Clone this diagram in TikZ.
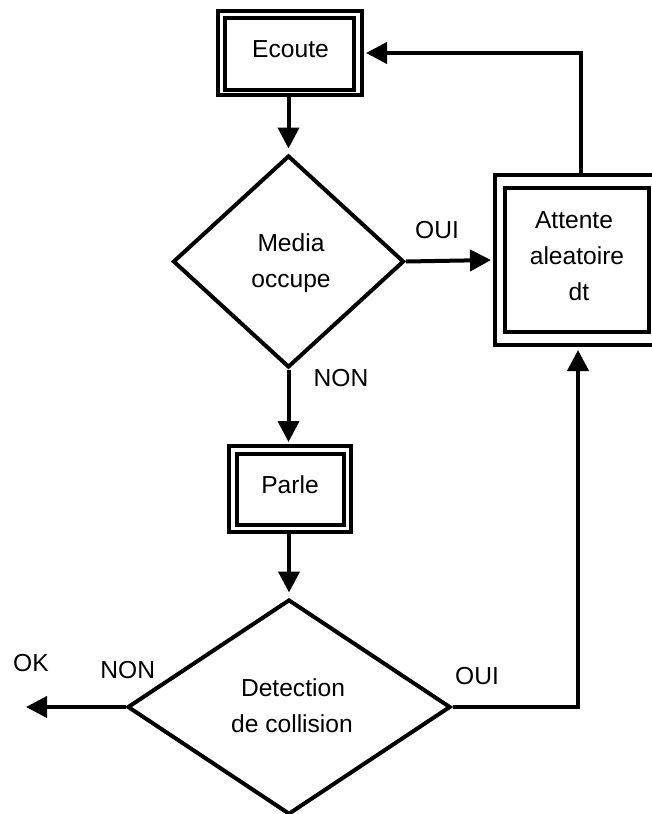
\documentclass[tikz,border=0pt]{standalone}
\usepackage{fontspec}
\setmainfont{Liberation Sans}
\usetikzlibrary{arrows.meta,shapes.geometric}

\tikzset{
  txt/.style={font=\fontsize{24.6}{36}\selectfont, inner sep=0pt, anchor=base},
  boxline/.style={draw, line width=4pt, rectangle, inner sep=0pt},
  decision/.style={draw, line width=4pt, diamond, inner sep=0pt},
  flow/.style={line width=4pt, -{Triangle[length=21pt,width=21pt]}, shorten >=2pt},
}

\begin{document}
\begin{tikzpicture}[x=1pt, y=-1pt]
  \useasboundingbox (0,0) rectangle (651,814);

  % Ecoute
  \node[boxline, minimum width=144pt, minimum height=84pt] (ecoute) at (290,53) {};
  \node[boxline, minimum width=129pt, minimum height=72pt] (ecouteIn) at (289.5,54) {};
  \node[txt] (ecouteT) at (290.5,57.3) {Ecoute};

  % Media occupe
  \node[decision, minimum width=231pt, minimum height=212pt] (media) at (288.5,261.5) {};
  \node[txt] (mediaA) at (291,251) {Media};
  \node[txt] (mediaB) at (291,287) {occupe};

  % Attente aleatoire dt
  \node[boxline, minimum width=166pt, minimum height=170pt] (attente) at (578,260) {};
  \node[boxline, minimum width=144pt, minimum height=144pt] (attenteIn) at (577,260) {};
  \node[txt] (attA) at (574,228) {Attente};
  \node[txt] (attB) at (577,264) {aleatoire};
  \node[txt] (attC) at (579,300) {dt};

  % Parle
  \node[boxline, minimum width=122pt, minimum height=86pt] (parle) at (290,489) {};
  \node[boxline, minimum width=107pt, minimum height=71pt] (parleIn) at (290.5,489.5) {};
  \node[txt] (parleT) at (290,493.3) {Parle};

  % Detection de collision
  \node[decision, minimum width=323pt, minimum height=215pt] (det) at (289,707) {};
  \node[txt] (detA) at (293,696) {Detection};
  \node[txt] (detB) at (292,732) {de collision};

  % free end of the NON branch
  \coordinate (okEnd) at (26,707);

  % connectors
  \draw[flow, shorten >=5pt] (media.north |- ecoute.south) -- (media.north);
  \draw[flow] (media.east) -- (attente.west);
  \draw[flow] ([xshift=3pt]attente.north) |- (ecoute.east);
  \draw[flow] (media.south) -- (media.south |- parle.north);
  \draw[flow, shorten >=5pt] (det.north |- parle.south) -- (det.north);
  \draw[flow, shorten >=0pt] (det.west) -- (okEnd);
  \draw[flow, shorten >=3pt] (det.east) -| (attente.south);

  % branch labels
  \node[txt] (ouiA) at (437,238.3) {OUI};
  \node[txt] (nonA) at (341,386.7) {NON};
  \node[txt] (okT) at (31,671) {OK};
  \node[txt] (nonB) at (127.7,678.3) {NON};
  \node[txt] (ouiB) at (477,684.3) {OUI};
\end{tikzpicture}
\end{document}
